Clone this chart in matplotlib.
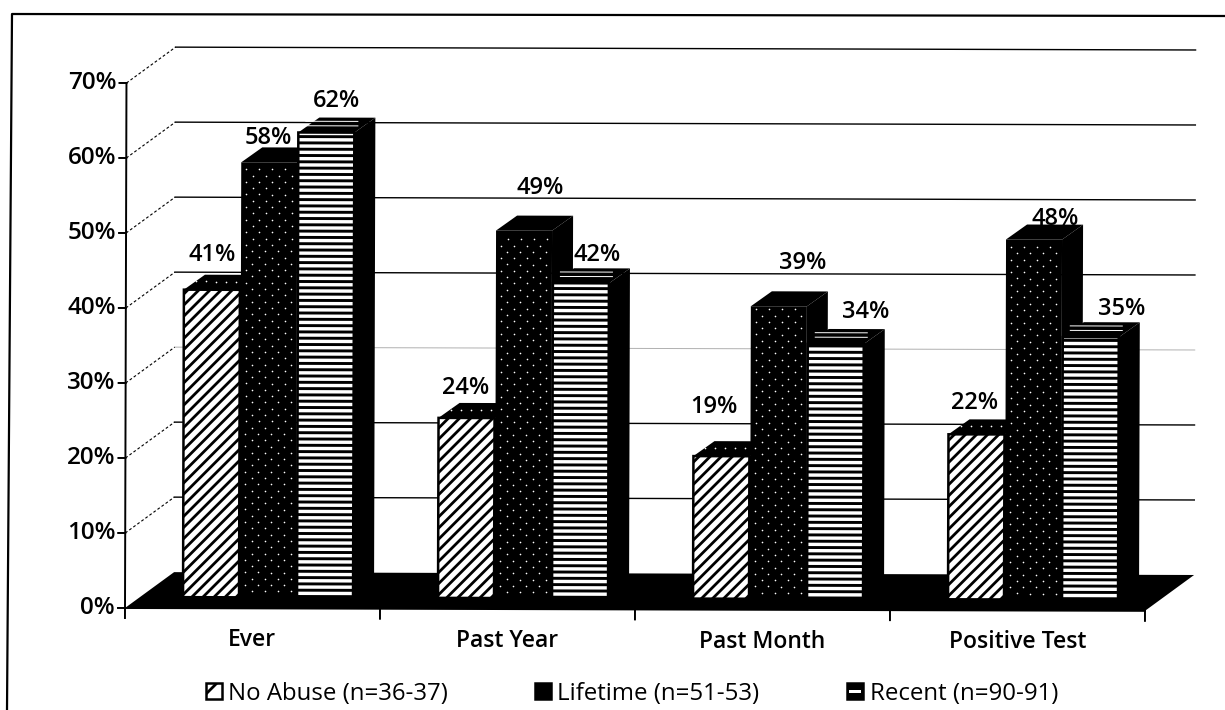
import numpy as np
import matplotlib
matplotlib.use('Agg')
import matplotlib.pyplot as plt
from matplotlib.lines import Line2D
from matplotlib.patches import Rectangle
from matplotlib.transforms import Affine2D

categories = ['Ever', 'Past Year', 'Past Month', 'Positive Test']
no_abuse = [41, 24, 19, 22]
lifetime = [58, 49, 39, 48]
recent = [62, 42, 34, 35]
y_ticks = [0, 10, 20, 30, 40, 50, 60, 70]
legend_labels = ['No Abuse (n=36-37)', 'Lifetime (n=51-53)', 'Recent (n=90-91)']

plt.rcParams['font.family'] = ['Open Sans', 'DejaVu Sans']
plt.rcParams['hatch.linewidth'] = 2.0

W, H = 1225, 710
fig = plt.figure(figsize=(W / 100, H / 100), dpi=100)
ax = fig.add_axes([125 / W, (H - 608) / H, 1020 / W, 525 / H])
ax.set_xlim(0, 4)
ax.set_ylim(0, 70)
ax.axis('off')

# scan is slightly rotated, so everything goes through this
tr = ax.transData + Affine2D().rotate_deg_around(125, H - 608, -0.16)

XU = 255.0  # px per category
YU = 7.5    # px per percent
wall_dx, wall_dy = 49 / XU, 36 / YU
plane_dx, plane_dy = 15 / XU, 11 / YU
side_dx, side_dy = 21 / XU, 15 / YU
bar_w = 56 / XU
bar_off = [43 / XU, 100 / XU, 157 / XU]


def poly(xs, ys, z, **kw):
    kw.setdefault('facecolor', 'black')
    kw.setdefault('edgecolor', 'none')
    ax.fill(xs, ys, transform=tr, clip_on=False, zorder=z, **kw)


def draw_bar(x0, v, kind, z):
    x0 += plane_dx
    y0 = plane_dy
    x1 = x0 + bar_w
    top = v + plane_dy
    # side and top are solid black
    poly([x1, x1 + side_dx, x1 + side_dx, x1], [y0, y0 + side_dy, top + side_dy, top], z)
    poly([x0, x0 + side_dx, x1 + side_dx, x1], [top, top + side_dy, top + side_dy, top], z)
    if kind == 'hatch':
        poly([x0, x1, x1, x0], [y0, y0, top, top], z + 0.1, facecolor='white',
             edgecolor='black', linewidth=1.8, hatch='///')
        sx = np.arange(x0 + 12 / XU, x1 + 14 / XU, 10 / XU)
        ax.scatter(sx, np.full(len(sx), top + 1.1), s=1.5, c='white', linewidths=0,
                   transform=tr, clip_on=False, zorder=z + 0.2)
    elif kind == 'dots':
        poly([x0, x1, x1, x0], [y0, y0, top, top], z + 0.1)
        rows = np.arange(y0 + 6 / YU, top - 3 / YU, 6.3 / YU)
        for i, r in enumerate(rows):
            cols = np.arange(x0 + (5 if i % 2 else 11.5) / XU, x1 - 1 / XU, 13 / XU)
            ax.scatter(cols, np.full(len(cols), r), s=1.4, c='white', linewidths=0,
                       transform=tr, clip_on=False, zorder=z + 0.2)
    else:
        poly([x0, x1, x1, x0], [y0, y0, top, top], z + 0.1, facecolor='white',
             edgecolor='black', linewidth=1.8)
        rows = np.arange(y0 + 1 / YU, top - 1 / YU, 6.3 / YU)
        ax.hlines(rows, x0, x1, colors='black', linewidth=2.1, transform=tr,
                  clip_on=False, zorder=z + 0.2)
        ax.hlines([top + 0.9, top + 1.5], x0 + 7 / XU, x1 + 4 / XU, colors='white', linewidth=0.7,
                  transform=tr, clip_on=False, zorder=z + 0.2)


# back wall grid and dashed side wall
for t in y_ticks[1:]:
    col, lw = ('#b0b0b0', 0.7) if t == 30 else ('black', 1.0)
    ax.plot([wall_dx, 4 + wall_dx], [t + wall_dy, t + wall_dy], color=col, lw=lw,
            transform=tr, clip_on=False, zorder=1)
    ax.plot([0, wall_dx], [t, t + wall_dy], color='black', lw=0.8, ls=(0, (2.5, 2)),
            transform=tr, clip_on=False, zorder=1)

# floor
poly([0, 4, 4 + wall_dx, wall_dx], [0, 0, wall_dy, wall_dy], 2)

# bars
z = 3
for i in range(len(categories)):
    draw_bar(i + bar_off[0], no_abuse[i], 'hatch', z)
    draw_bar(i + bar_off[1], lifetime[i], 'dots', z + 1)
    draw_bar(i + bar_off[2], recent[i], 'stripes', z + 2)
    z += 3

# axis lines and ticks
ax.plot([0, 0], [0, 70], color='black', lw=1.4, transform=tr, clip_on=False, zorder=30)
ax.plot([0, 4], [0, 0], color='black', lw=1.4, transform=tr, clip_on=False, zorder=30)
for t in y_ticks:
    ax.plot([-7 / XU, 0], [t, t], color='black', lw=1.4, transform=tr, clip_on=False, zorder=30)
    ax.text(-10 / XU, t, f'{t}%', ha='right', va='center', fontsize=17.5, fontweight=600,
            transform=tr, clip_on=False)
for i in range(5):
    ax.plot([i, i], [0, -10 / YU], color='black', lw=1.4, transform=tr, clip_on=False, zorder=30)
for i, c in enumerate(categories):
    ax.text(i + 0.5, -32 / YU, c, ha='center', va='center', fontsize=16.5, fontweight=600,
            transform=tr, clip_on=False)

# value labels, offsets in px from the front top centre of each bar
offs = [[(0, 35), (-1, 24), (10, 32)],
        [(-1, 30), (16, 43), (16, 28)],
        [(-7, 49), (24, 43), (30, 32)],
        [(-2, 31), (21, 21), (31, 28)]]
series = [no_abuse, lifetime, recent]
for i in range(len(categories)):
    for j, vals in enumerate(series):
        dx, dy = offs[i][j]
        v = vals[i]
        ax.annotate(f'{v}%', xy=(i + bar_off[j] + plane_dx + bar_w / 2, v + plane_dy), xycoords=tr,
                    xytext=(dx, dy), textcoords='offset pixels', ha='center', va='center',
                    fontsize=17, fontweight=600, annotation_clip=False, zorder=40)


# legend
def fx(px):
    return px / W


def fy(py):
    return 1 - py / H


swatch_x = [206, 535, 847]
text_x = [228, 557, 870]
for sx, tx, lab, kind in zip(swatch_x, text_x, legend_labels, ['hatch', 'solid', 'stripe']):
    fc = 'white' if kind == 'hatch' else 'black'
    fig.add_artist(Rectangle((fx(sx), fy(699)), 16 / W, 16 / H, transform=fig.transFigure,
                             facecolor=fc, edgecolor='black', linewidth=1.8,
                             hatch='/' if kind == 'hatch' else None))
    if kind == 'stripe':
        fig.add_artist(Rectangle((fx(sx + 2), fy(693)), 12 / W, 3 / H, transform=fig.transFigure,
                                 facecolor='white', edgecolor='none'))
    fig.text(fx(tx), fy(694), lab, ha='left', va='center', fontsize=17.3)

# outer frame of the scanned page (no right edge)
fig.add_artist(Line2D([fx(7), fx(12), fx(1225)], [fy(710), fy(14), fy(16)], color='black', lw=1.6))

fig.savefig('out.png', dpi=100)
